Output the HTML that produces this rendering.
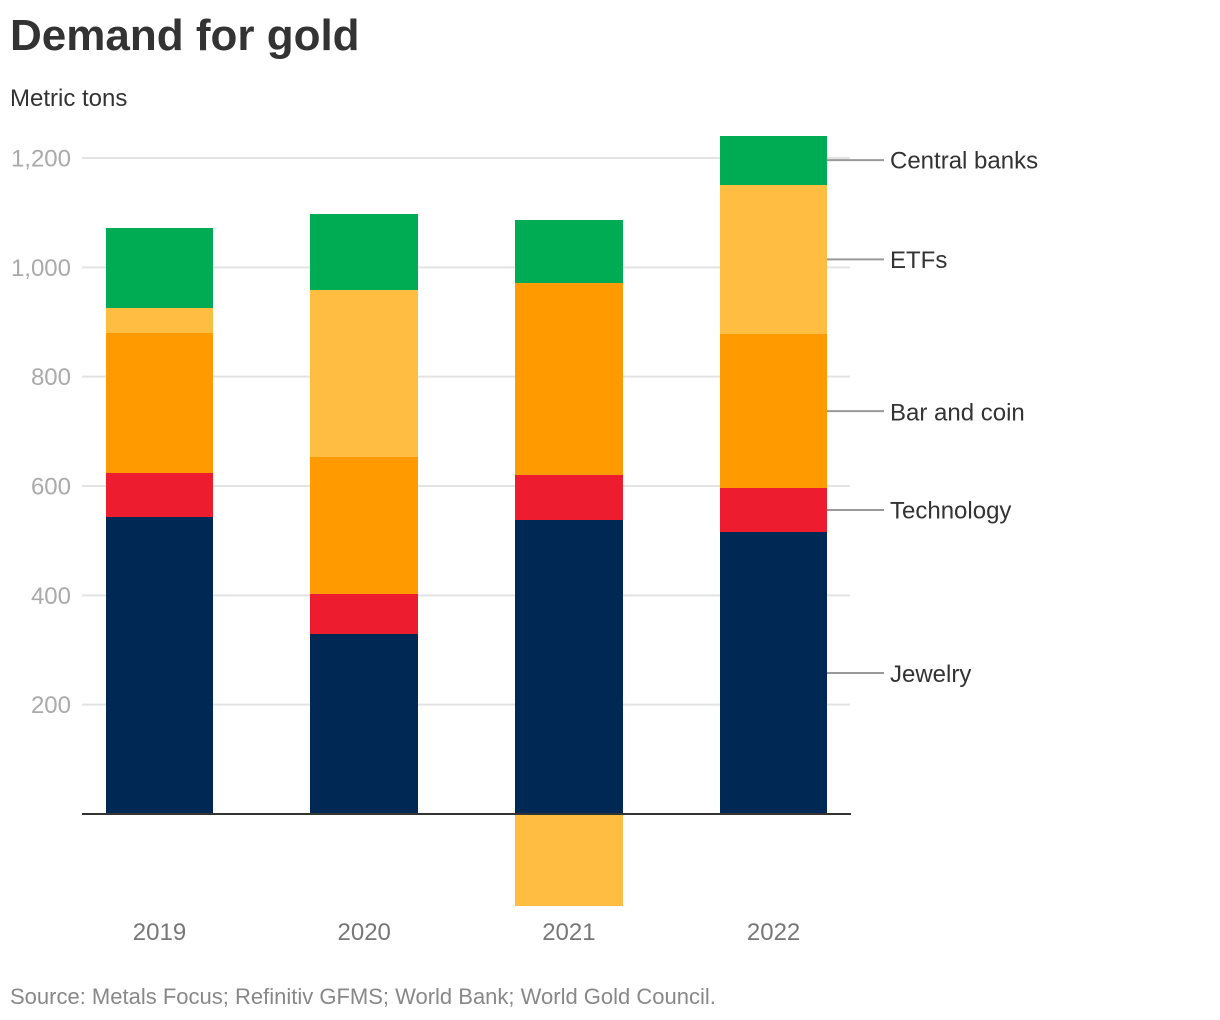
<!DOCTYPE html>
<html lang="en">
<head>
<meta charset="utf-8">
<title>Demand for gold</title>
<style>
html,body{margin:0;padding:0;background:#fff;width:1220px;height:1020px;overflow:hidden}
svg{display:block;font-family:"Liberation Sans",sans-serif}
</style>
</head>
<body>
<svg id="chart" width="1220" height="1020" viewBox="0 0 1220 1020" xmlns="http://www.w3.org/2000/svg">
  <text x="10" y="50" font-size="44" font-weight="700" fill="#333333">Demand for gold</text>
  <text x="10" y="106" font-size="24" fill="#333333">Metric tons</text>
  <text x="10" y="1004" font-size="22" fill="#888888">Source: Metals Focus; Refinitiv GFMS; World Bank; World Gold Council.</text>
  <g id="grid"></g>
  <g id="bars"></g>
  <g id="axis"></g>
  <g id="labels"></g>
</svg>
<script>
const years = ['2019', '2020', '2021', '2022'];
const yTicks = [200, 400, 600, 800, 1000, 1200];
const seriesNames = ['Jewelry', 'Technology', 'Bar and coin', 'ETFs', 'Central banks'];
const jewelry = [543, 329, 538, 516];
const technology = [80, 73, 82, 80];
const barAndCoin = [256, 251, 351, 282];
const etfs = [46, 305, -168, 273];
const centralBanks = [147, 139, 115, 90];
const seriesColors = ['#002855', '#ed1c2e', '#ff9b00', '#ffbd42', '#00ac53'];

const seriesValues = [jewelry, technology, barAndCoin, etfs, centralBanks];
const NS = 'http://www.w3.org/2000/svg';
const zeroY = 814, pxPerUnit = 656 / 1200;
const plotLeft = 82, plotRight = 850;
const firstCenter = 159.5, step = 204.7, barWidth = 107.5;
const labelNudge = {'Bar and coin': 1, 'Jewelry': 0.5};
const y = v => zeroY - v * pxPerUnit;
const xCenter = i => firstCenter + i * step;

function make(tag, attrs, parent, text) {
  const el = document.createElementNS(NS, tag);
  for (const k in attrs) el.setAttribute(k, attrs[k]);
  if (text !== undefined) el.textContent = text;
  parent.appendChild(el);
  return el;
}
const grid = document.getElementById('grid');
const bars = document.getElementById('bars');
const axis = document.getElementById('axis');
const labels = document.getElementById('labels');

yTicks.forEach(t => {
  const line = make('line', {x1: plotLeft, x2: plotRight, y1: y(t), y2: y(t), stroke: '#e3e3e3', 'stroke-width': 2}, grid);
  
  
  const lab = make('text', {x: 71, y: y(t) + 8.5, 'text-anchor': 'end', 'font-size': 24, fill: '#aaaaaa'}, grid, t.toLocaleString('en-US'));
  
  
});

years.forEach((yr, i) => {
  let pos = 0, neg = 0;
  seriesValues.forEach((vals, s) => {
    const v = vals[i];
    let top, bottom;
    if (v >= 0) { bottom = pos; top = pos + v; pos = top; }
    else { top = neg; bottom = neg + v; neg = bottom; }
    const left = Math.round(xCenter(i) - barWidth / 2);
    const right = Math.round(xCenter(i) + barWidth / 2);
    const yTop = Math.round(y(top));
    const yBottom = Math.round(y(bottom));
    const r = make('rect', {x: left, y: yTop, width: right - left, height: yBottom - yTop, fill: seriesColors[s], 'shape-rendering': 'crispEdges'}, bars);
    
    
  });
  const lab = make('text', {x: xCenter(i), y: 940, 'text-anchor': 'middle', 'font-size': 24, fill: '#777777'}, axis, yr);
  
  
});

const baseline = make('line', {x1: plotLeft, x2: plotRight + 1, y1: zeroY, y2: zeroY, stroke: '#333333', 'stroke-width': 2}, axis);



const last = years.length - 1;
const barRight = Math.round(xCenter(last) + barWidth / 2);
let cum = 0;
seriesNames.forEach((name, s) => {
  const v = seriesValues[s][last];
  const mid = y(cum + v / 2);
  cum += v;
  const slug = name.toLowerCase().replace(/ /g, '-');
  const l = make('line', {x1: barRight, x2: 884, y1: mid, y2: mid, stroke: '#999999', 'stroke-width': 2}, labels);
  
  
  const t = make('text', {x: 890, y: mid + 8.5 + (labelNudge[name] || 0), 'font-size': 24, fill: '#333333'}, labels, name);
  
  
});
</script>
</body>
</html>
